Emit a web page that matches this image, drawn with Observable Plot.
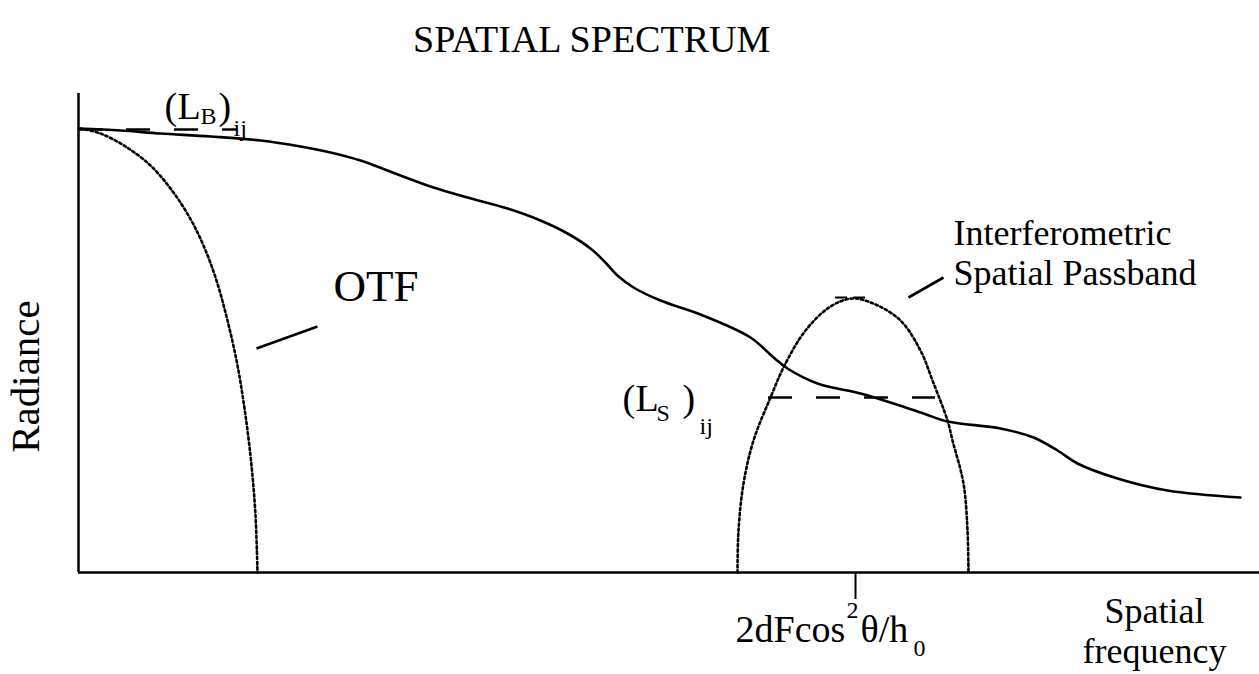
<!DOCTYPE html>
<html>
<head>
<meta charset="utf-8">
<script src="https://cdn.jsdelivr.net/npm/d3@7"></script>
<script src="https://cdn.jsdelivr.net/npm/@observablehq/plot@0.6"></script>
<style>
  html, body { margin: 0; padding: 0; background: #fff; }
  #title { height: 64px; box-sizing: border-box; padding-top: 17px; padding-left: 413px;
           font: 38px/44px "Liberation Serif", "Times New Roman", serif; color: #000; white-space: nowrap; }
  #chart svg { display: block; }
</style>
</head>
<body>
<div id="title">SPATIAL SPECTRUM</div>
<div id="chart"></div>
<script>
// Spatial frequency (arbitrary units) and radiance (arbitrary units)
const curveFreq = [0, 42, 82, 132, 182, 222, 252, 282, 322, 355, 389, 429, 462, 489, 512, 525, 539, 555, 582, 622, 672, 695, 709, 739, 782, 815, 845, 869, 922, 955, 979, 999, 1039, 1089, 1162];
const curveRad  = [444, 442, 439, 436, 432, 426, 420, 412, 397, 385, 375, 364, 352, 339, 324, 312, 297, 285, 272, 258, 235, 215, 204, 189, 179, 169, 159, 151, 144, 135, 122, 109, 94, 82, 75];

const otfFreq = [2, 22, 47, 72, 92, 110, 125, 138, 149, 159, 167, 173, 177, 179];
const otfRad  = [444, 439, 426, 407, 384, 357, 327, 292, 252, 207, 157, 107, 57, 0];

const passFreq = [659, 660, 665, 675, 692, 706, 727, 752, 774, 797, 822, 842, 854, 869, 874, 885, 889, 890];
const passRad  = [0, 42, 89, 132, 175, 207, 242, 266, 274, 268, 252, 222, 192, 152, 132, 89, 42, 0];

// Levels (dashed lines)
const levelNames = ["LB", "LS", "peak"];
const levelRad   = [443, 175, 275];
const levelFrom  = [0, 690, 757];
const levelTo    = [159, 857, 792];

// Centre frequency of the passband
const centreFreq = 777;

// Leader lines
const leaders = [
  {x1: 178, y1: 224, x2: 239, y2: 246},
  {x1: 830, y1: 275, x2: 865, y2: 295}
];

const font = '"Liberation Serif", "Times New Roman", serif';

const curve = curveFreq.map((x, i) => ({x, y: curveRad[i]}));
const otf = otfFreq.map((x, i) => ({x, y: otfRad[i]}));
const pass = passFreq.map((x, i) => ({x, y: passRad[i]}));
const levels = levelNames.map((n, i) => ({n, y: levelRad[i], x1: levelFrom[i], x2: levelTo[i]}));

const big = [
  {x: 86,  y: 454, t: "("},
  {x: 99,  y: 454, t: "L"},
  {x: 140, y: 454, t: ")"},
  {x: 544, y: 162, t: "("},
  {x: 557, y: 162, t: "L"},
  {x: 604, y: 162, t: ")"},
  {x: 657, y: -69, t: "2dFcos"},
  {x: 782, y: -69, t: "θ/h"}
];
const small = [
  {x: 122, y: 449, t: "B"},
  {x: 155, y: 437, t: "ij"},
  {x: 578, y: 152, t: "S"},
  {x: 621, y: 139, t: "ij"},
  {x: 768, y: -45, t: "2"},
  {x: 835, y: -83, t: "0"}
];
const label = [
  {x: 875, y: 328, t: "Interferometric"},
  {x: 875, y: 288, t: "Spatial Passband"}
];

const chart = Plot.plot({
  width: 1259,
  height: 610,
  marginLeft: 78,
  marginRight: 0,
  marginTop: 29,
  marginBottom: 102,
  x: {domain: [0, 1181], axis: null},
  y: {domain: [0, 479], axis: null},
  style: {fontFamily: font, background: "white", color: "black", overflow: "visible"},
  marks: [
    Plot.ruleX([0], {y1: 0, y2: 479, stroke: "black", strokeWidth: 2.5}),
    Plot.ruleY([0], {x1: 0, x2: 1181, stroke: "black", strokeWidth: 2.5}),
    Plot.ruleX([centreFreq], {y1: 0, y2: -27, stroke: "black", strokeWidth: 2}),
    Plot.line(otf, {x: "x", y: "y", curve: "catmull-rom", stroke: "black", strokeWidth: 2.6, strokeDasharray: "2.4,2.8"}),
    Plot.line(pass, {x: "x", y: "y", curve: "catmull-rom", stroke: "black", strokeWidth: 2.6, strokeDasharray: "2.4,2.8"}),
    Plot.line(curve, {x: "x", y: "y", curve: "catmull-rom", stroke: "black", strokeWidth: 2.6}),
    Plot.ruleY(levels.filter(d => d.n !== "peak"), {y: "y", x1: "x1", x2: "x2", stroke: "black", strokeWidth: 2.5, strokeDasharray: "24,24"}),
    Plot.ruleY(levels.filter(d => d.n === "peak"), {y: "y", x1: "x1", x2: "x2", stroke: "black", strokeWidth: 2, strokeDasharray: "12,6"}),
    Plot.link(leaders, {x1: "x1", y1: "y1", x2: "x2", y2: "y2", stroke: "black", strokeWidth: 2.6}),
    Plot.text(big, {x: "x", y: "y", text: "t", fontSize: 38, textAnchor: "start", lineAnchor: "bottom", fill: "black"}),
    Plot.text(small, {x: "x", y: "y", text: "t", fontSize: 24, textAnchor: "start", lineAnchor: "bottom", fill: "black"}),
    Plot.text(label, {x: "x", y: "y", text: "t", fontSize: 36, textAnchor: "start", lineAnchor: "bottom", fill: "black"}),
    Plot.text(["OTF"], {x: 255, y: 272, text: d => d, fontSize: 45, textAnchor: "start", lineAnchor: "bottom", fill: "black"}),
    Plot.text(["Spatial", "frequency"], {x: 1076, y: (d, i) => i === 0 ? -50 : -90, text: d => d, fontSize: 36, textAnchor: "middle", lineAnchor: "bottom", fill: "black"}),
    Plot.text(["Radiance"], {x: -53, y: 196, text: d => d, fontSize: 41, rotate: -90, textAnchor: "middle", lineAnchor: "middle", fill: "black"})
  ]
});
document.getElementById("chart").appendChild(chart);
</script>
</body>
</html>
